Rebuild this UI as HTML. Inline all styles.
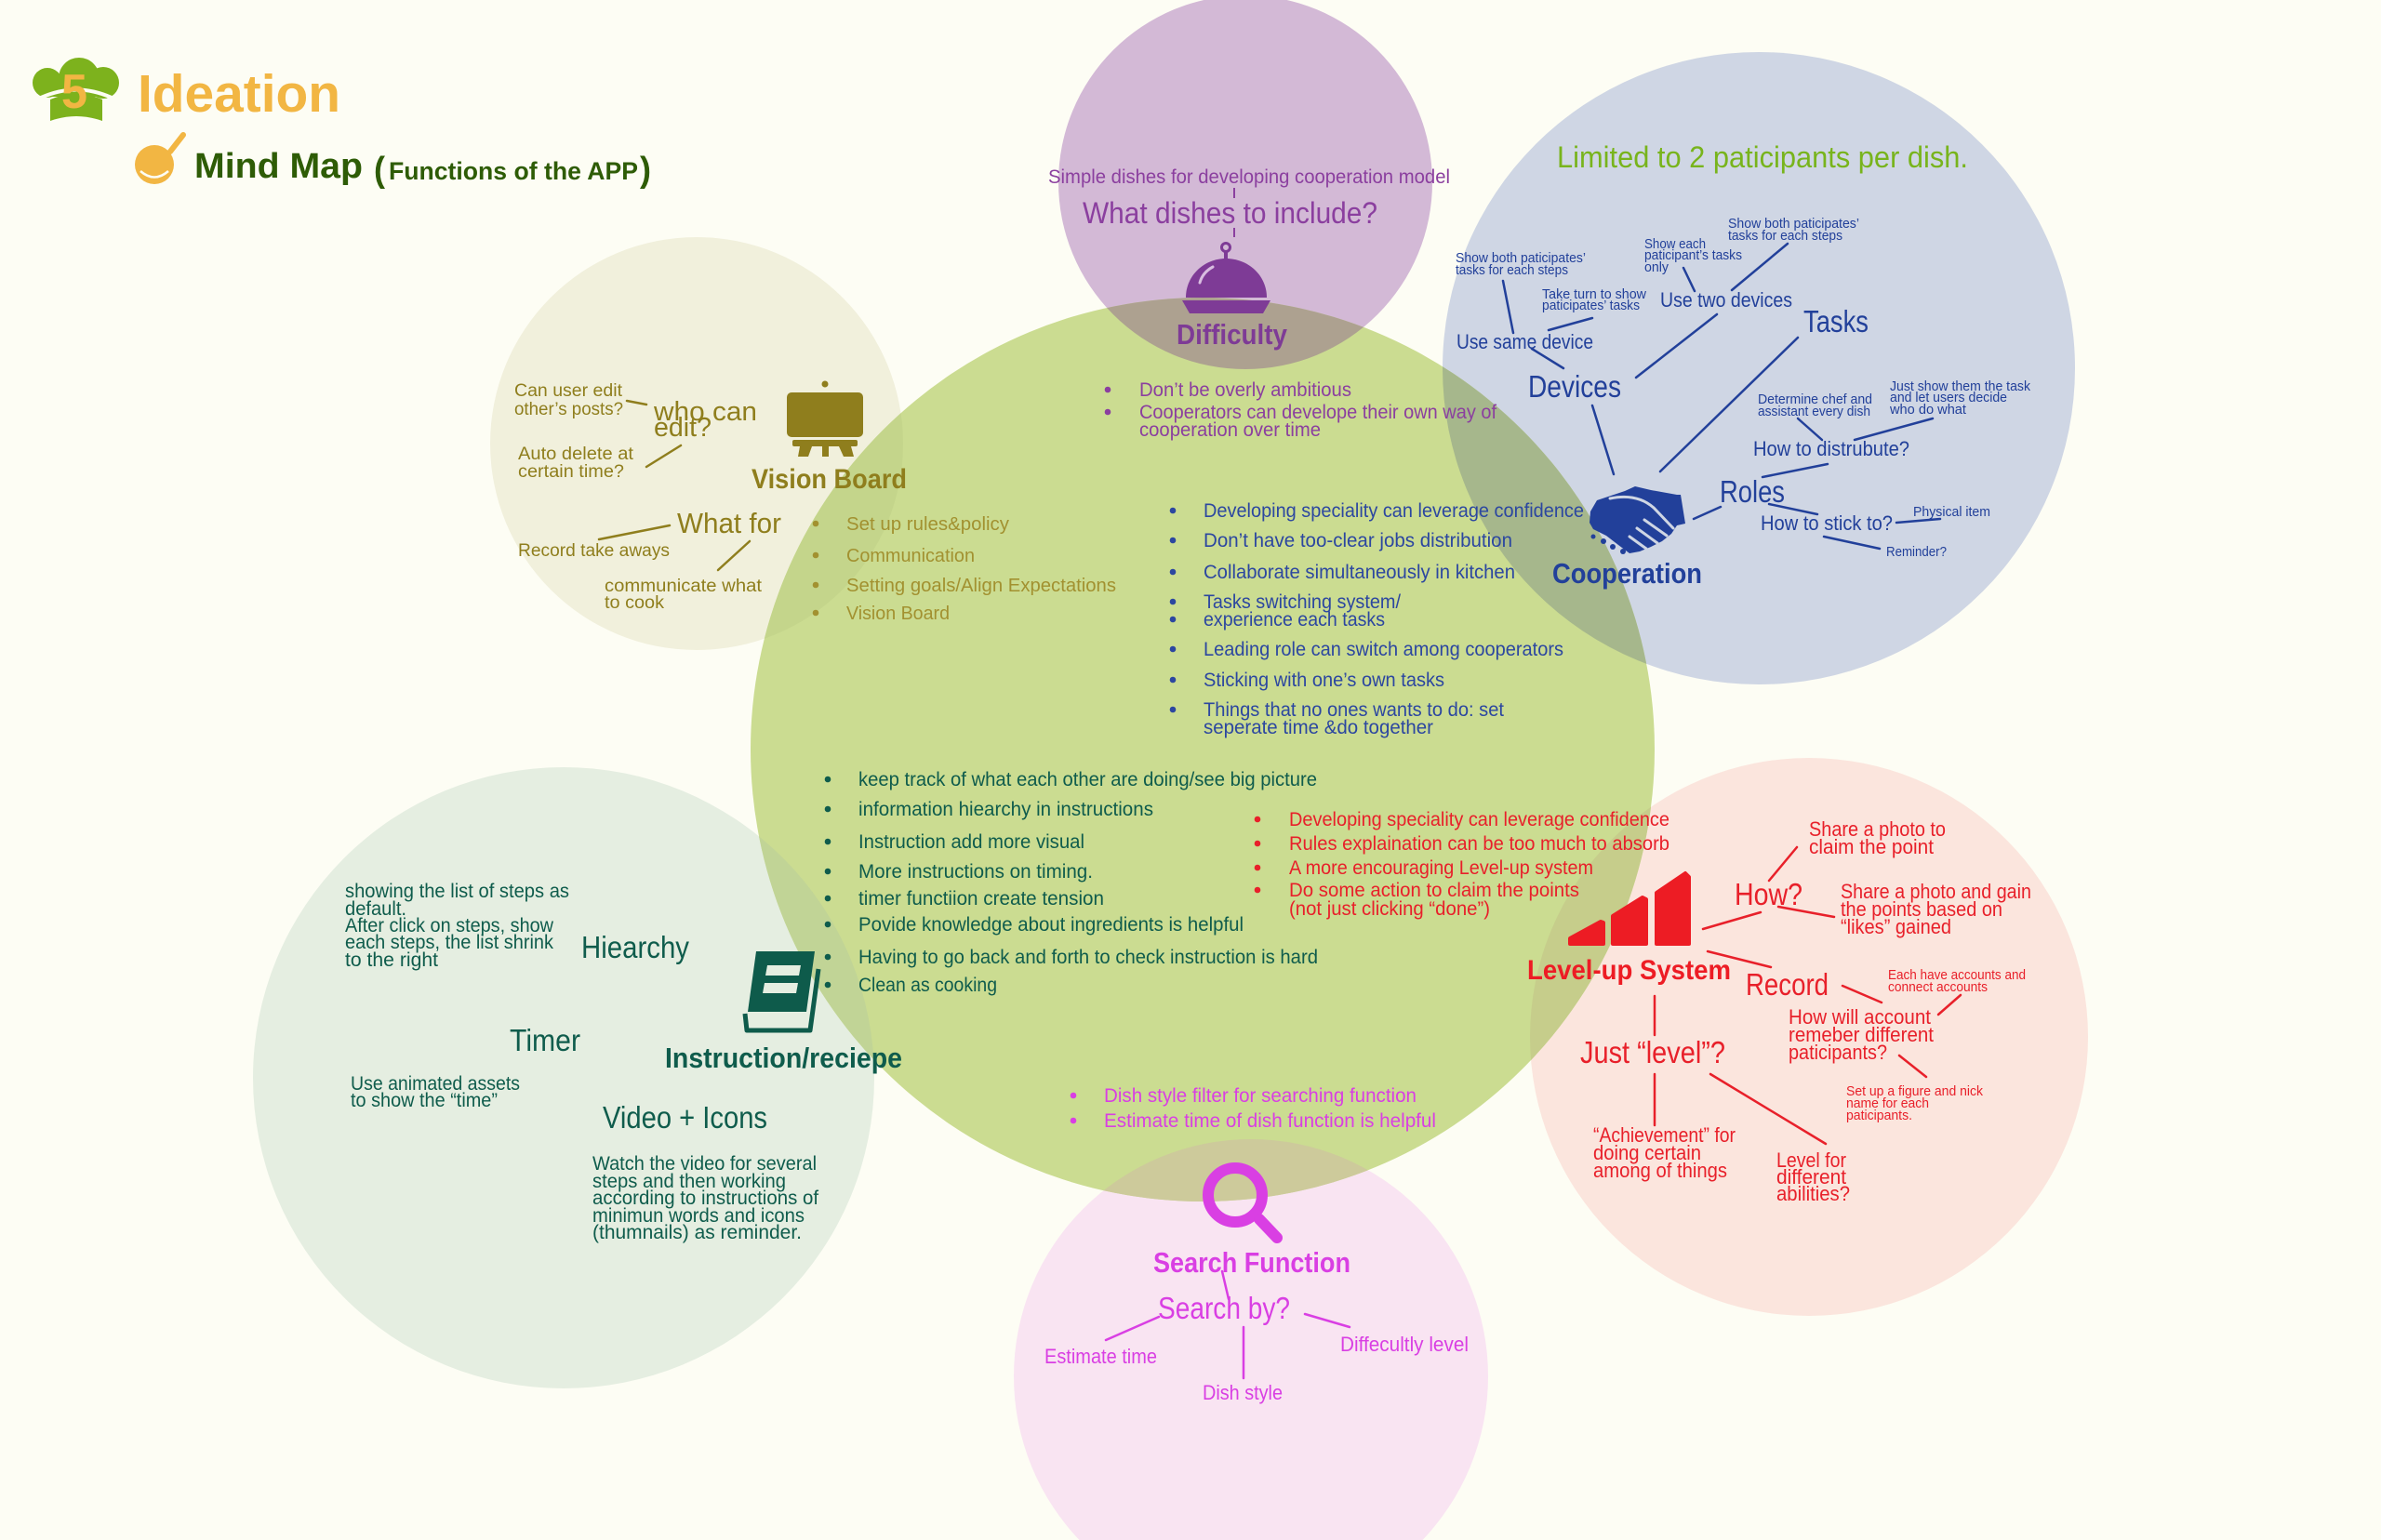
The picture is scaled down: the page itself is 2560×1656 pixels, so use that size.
<!DOCTYPE html>
<html><head><meta charset="utf-8"><style>
html,body{margin:0;padding:0;background:#fdfdf4;width:2560px;height:1656px;overflow:hidden}
svg{display:block}
text{font-family:"Liberation Sans",Arial,sans-serif;}
.b{font-weight:bold}
</style></head><body>
<svg width="2560" height="1656" viewBox="0 0 2560 1656" xmlns="http://www.w3.org/2000/svg">
<rect width="2560" height="1656" fill="#fdfdf4"/>
<defs><clipPath id="cg"><circle cx="1293" cy="806" r="486"/></clipPath></defs>

<!-- circles -->
<circle cx="749" cy="477" r="222" fill="#f1f0dc"/>
<circle cx="1339" cy="196" r="201" fill="#d3b9d6"/>
<circle cx="1891" cy="396" r="340" fill="#cfd6e4"/>
<circle cx="1945" cy="1115" r="300" fill="#fbe5dd"/>
<circle cx="606" cy="1159" r="334" fill="#e5eee1"/>
<circle cx="1345" cy="1480" r="255" fill="#f9e4f2"/>
<circle cx="1293" cy="806" r="486" fill="#cbdc91"/>
<g clip-path="url(#cg)">
<circle cx="749" cy="477" r="222" fill="#c4d58b"/>
<circle cx="1339" cy="196" r="201" fill="#ada190"/>
<circle cx="1891" cy="396" r="340" fill="#a6b78c"/>
<circle cx="1945" cy="1115" r="300" fill="#c6cd8b"/>
<circle cx="606" cy="1159" r="334" fill="#c1d496"/>
<circle cx="1345" cy="1480" r="255" fill="#cdca9b"/>
</g>

<!-- title -->
<g fill="#7db21d">
<circle cx="51" cy="89" r="16"/>
<circle cx="85" cy="84" r="22"/>
<circle cx="111" cy="89" r="17"/>
<rect x="50" y="84" width="62" height="20"/>
<path d="M54,107 Q82,95 110,107 L110,130 Q82,120 54,130 Z"/>
</g>
<path d="M44,105 Q82,88 120,105" stroke="#fdfdf4" stroke-width="4" fill="none"/>
<text x="66" y="116" font-size="52" class="b" fill="#f2b643" textLength="28" lengthAdjust="spacingAndGlyphs">5</text>
<text x="148" y="120" font-size="57" class="b" fill="#f2b643" textLength="218" lengthAdjust="spacingAndGlyphs">Ideation</text>
<circle cx="166" cy="177" r="21" fill="#f2b643"/>
<path d="M151,184 Q166,197 181,184" stroke="#fdfdf4" stroke-width="2.5" fill="none"/>
<line x1="183" y1="163" x2="197" y2="145" stroke="#f2b643" stroke-width="6" stroke-linecap="round"/>
<text x="209" y="191" font-size="38" class="b" fill="#2e5c06" textLength="181" lengthAdjust="spacingAndGlyphs">Mind Map</text>
<text x="402" y="195" font-size="38" class="b" fill="#2e5c06" textLength="12" lengthAdjust="spacingAndGlyphs">(</text>
<text x="418" y="193" font-size="27" class="b" fill="#2e5c06" textLength="268" lengthAdjust="spacingAndGlyphs">Functions of the APP</text>
<text x="688" y="195" font-size="38" class="b" fill="#2e5c06" textLength="12" lengthAdjust="spacingAndGlyphs">)</text>

<!-- VISION BOARD -->
<g fill="#8f7e1d">
<rect x="846" y="422" width="82" height="48" rx="5"/>
<circle cx="887" cy="413" r="3.5"/>
<rect x="852" y="473" width="70" height="7" rx="2"/>
<polygon points="860,480 873,480 869,491 858,491"/>
<rect x="884" y="480" width="7" height="11"/>
<polygon points="902,480 915,480 918,491 907,491"/>
</g>
<g stroke="#8f7e1d" stroke-width="2.5" stroke-linecap="round">
<line x1="674" y1="431" x2="695" y2="435"/>
<line x1="695" y1="502" x2="732" y2="479"/>
<line x1="644" y1="580" x2="720" y2="565"/>
<line x1="806" y1="582" x2="772" y2="613"/>
</g>
<g fill="#8f7e1d">
<text x="553" y="426" font-size="19" textLength="116" lengthAdjust="spacingAndGlyphs">Can user edit</text>
<text x="553" y="446" font-size="19" textLength="117" lengthAdjust="spacingAndGlyphs">other’s posts?</text>
<text x="703" y="452" font-size="29" textLength="111" lengthAdjust="spacingAndGlyphs">who can</text>
<text x="703" y="469" font-size="29" textLength="62" lengthAdjust="spacingAndGlyphs">edit?</text>
<text x="557" y="494" font-size="19" textLength="124" lengthAdjust="spacingAndGlyphs">Auto delete at</text>
<text x="557" y="513" font-size="19" textLength="114" lengthAdjust="spacingAndGlyphs">certain time?</text>
<text x="808" y="525" font-size="30" class="b" textLength="167" lengthAdjust="spacingAndGlyphs">Vision Board</text>
<text x="728" y="573" font-size="31" textLength="112" lengthAdjust="spacingAndGlyphs">What for</text>
<text x="557" y="598" font-size="19" textLength="163" lengthAdjust="spacingAndGlyphs">Record take aways</text>
<text x="650" y="636" font-size="19" textLength="169" lengthAdjust="spacingAndGlyphs">communicate what</text>
<text x="650" y="654" font-size="19" textLength="64" lengthAdjust="spacingAndGlyphs">to cook</text>
</g>
<g fill="#a29130">
<circle cx="877" cy="563" r="3.3"/><circle cx="877" cy="597" r="3.3"/><circle cx="877" cy="629" r="3.3"/><circle cx="877" cy="659" r="3.3"/>
<text x="910" y="570" font-size="20" textLength="175" lengthAdjust="spacingAndGlyphs">Set up rules&amp;policy</text>
<text x="910" y="604" font-size="20" textLength="138" lengthAdjust="spacingAndGlyphs">Communication</text>
<text x="910" y="636" font-size="20" textLength="290" lengthAdjust="spacingAndGlyphs">Setting goals/Align Expectations</text>
<text x="910" y="666" font-size="20" textLength="111" lengthAdjust="spacingAndGlyphs">Vision Board</text>
</g>

<!-- DIFFICULTY -->
<g stroke="#8b3f9f" stroke-width="2">
<line x1="1327" y1="202" x2="1327" y2="213"/>
<line x1="1327" y1="245" x2="1327" y2="255"/>
</g>
<g fill="#7e3b96">
<circle cx="1318" cy="266" r="4.5" fill="none" stroke="#7e3b96" stroke-width="3"/>
<rect x="1316" y="270" width="4" height="9"/>
<path d="M1275,320 C1275,296 1295,278 1318,278 C1342,278 1362,296 1362,320 Z"/>
<path d="M1271,323 L1366,323 L1358,337 L1279,337 Z"/>
</g>
<path d="M1290,304 Q1293,293 1304,287" stroke="#d8bde0" stroke-width="3" fill="none" stroke-linecap="round"/>
<g fill="#8b3f9f">
<text x="1127" y="197" font-size="21" textLength="432" lengthAdjust="spacingAndGlyphs">Simple dishes for developing cooperation model</text>
<text x="1164" y="240" font-size="32" textLength="317" lengthAdjust="spacingAndGlyphs">What dishes to include?</text>
<text x="1265" y="370" font-size="31" class="b" fill="#7e3b96" textLength="119" lengthAdjust="spacingAndGlyphs">Difficulty</text>
<circle cx="1191" cy="419" r="3.3"/><circle cx="1191" cy="443" r="3.3"/>
<text x="1225" y="426" font-size="21" textLength="228" lengthAdjust="spacingAndGlyphs">Don’t be overly ambitious</text>
<text x="1225" y="450" font-size="21" textLength="384" lengthAdjust="spacingAndGlyphs">Cooperators can develope their own way of</text>
<text x="1225" y="469" font-size="21" textLength="195" lengthAdjust="spacingAndGlyphs">cooperation over time</text>
</g>

<!-- COOPERATION -->
<text x="1674" y="180" font-size="32" fill="#78b41c" textLength="442" lengthAdjust="spacingAndGlyphs">Limited to 2 paticipants per dish.</text>
<g stroke="#22409a" stroke-width="2.5" stroke-linecap="round">
<line x1="1616" y1="302" x2="1627" y2="358"/>
<line x1="1665" y1="355" x2="1712" y2="342"/>
<line x1="1647" y1="375" x2="1681" y2="396"/>
<line x1="1712" y1="436" x2="1735" y2="510"/>
<line x1="1759" y1="406" x2="1846" y2="338"/>
<line x1="1810" y1="288" x2="1822" y2="313"/>
<line x1="1922" y1="262" x2="1862" y2="312"/>
<line x1="1933" y1="363" x2="1785" y2="507"/>
<line x1="1933" y1="450" x2="1959" y2="473"/>
<line x1="1994" y1="473" x2="2078" y2="450"/>
<line x1="1895" y1="513" x2="1965" y2="499"/>
<line x1="1850" y1="545" x2="1821" y2="558"/>
<line x1="1902" y1="542" x2="1954" y2="553"/>
<line x1="2039" y1="562" x2="2086" y2="558"/>
<line x1="1961" y1="577" x2="2021" y2="590"/>
</g>
<path fill="#22409a" d="M1710,550 L1717,538 L1732,533 L1747,528 L1758,523 L1775,527 L1803,532 L1807,532 L1812,563 L1803,565 L1797,574 L1787,582 L1775,588 L1763,593 L1752,595 L1740,586 L1727,576 L1713,569 L1709,562 Z"/>
<g stroke="#cfd6e4" stroke-width="3" stroke-linecap="round" fill="none">
<path d="M1731,536 Q1760,530 1778,546 L1799,568"/>
<line x1="1768" y1="559" x2="1792" y2="576"/>
<line x1="1760" y1="568" x2="1782" y2="584"/>
<line x1="1752" y1="577" x2="1770" y2="590"/>
</g>
<g fill="#22409a">
<circle cx="1713" cy="577" r="2.5"/><circle cx="1724" cy="582" r="3"/><circle cx="1734" cy="588" r="3"/><circle cx="1745" cy="593" r="3"/>
<text x="1565" y="282" font-size="15" textLength="140" lengthAdjust="spacingAndGlyphs">Show both paticipates’</text>
<text x="1565" y="295" font-size="15" textLength="121" lengthAdjust="spacingAndGlyphs">tasks for each steps</text>
<text x="1658" y="321" font-size="15" textLength="112" lengthAdjust="spacingAndGlyphs">Take turn to show</text>
<text x="1658" y="333" font-size="15" textLength="105" lengthAdjust="spacingAndGlyphs">paticipates’ tasks</text>
<text x="1566" y="375" font-size="22" textLength="147" lengthAdjust="spacingAndGlyphs">Use same device</text>
<text x="1643" y="427" font-size="33" textLength="100" lengthAdjust="spacingAndGlyphs">Devices</text>
<text x="1785" y="330" font-size="22" textLength="142" lengthAdjust="spacingAndGlyphs">Use two devices</text>
<text x="1768" y="267" font-size="15" textLength="66" lengthAdjust="spacingAndGlyphs">Show each</text>
<text x="1768" y="279" font-size="15" textLength="105" lengthAdjust="spacingAndGlyphs">paticipant’s tasks</text>
<text x="1768" y="292" font-size="15" textLength="26" lengthAdjust="spacingAndGlyphs">only</text>
<text x="1858" y="245" font-size="15" textLength="141" lengthAdjust="spacingAndGlyphs">Show both paticipates’</text>
<text x="1858" y="258" font-size="15" textLength="123" lengthAdjust="spacingAndGlyphs">tasks for each steps</text>
<text x="1939" y="357" font-size="33" textLength="70" lengthAdjust="spacingAndGlyphs">Tasks</text>
<text x="1890" y="434" font-size="15" textLength="123" lengthAdjust="spacingAndGlyphs">Determine chef and</text>
<text x="1890" y="447" font-size="15" textLength="121" lengthAdjust="spacingAndGlyphs">assistant every dish</text>
<text x="2032" y="420" font-size="15" textLength="151" lengthAdjust="spacingAndGlyphs">Just show them the task</text>
<text x="2032" y="432" font-size="15" textLength="126" lengthAdjust="spacingAndGlyphs">and let users decide</text>
<text x="2032" y="445" font-size="15" textLength="82" lengthAdjust="spacingAndGlyphs">who do what</text>
<text x="1885" y="490" font-size="22" textLength="168" lengthAdjust="spacingAndGlyphs">How to distrubute?</text>
<text x="1849" y="540" font-size="33" textLength="70" lengthAdjust="spacingAndGlyphs">Roles</text>
<text x="1893" y="570" font-size="22" textLength="142" lengthAdjust="spacingAndGlyphs">How to stick to?</text>
<text x="2057" y="555" font-size="15" textLength="83" lengthAdjust="spacingAndGlyphs">Physical item</text>
<text x="2028" y="598" font-size="15" textLength="65" lengthAdjust="spacingAndGlyphs">Reminder?</text>
<text x="1669" y="627" font-size="31" class="b" textLength="161" lengthAdjust="spacingAndGlyphs">Cooperation</text>
</g>

<!-- blue bullets in center -->
<g fill="#2c47a0">
<circle cx="1261" cy="549" r="3.3"/><circle cx="1261" cy="581" r="3.3"/><circle cx="1261" cy="615" r="3.3"/><circle cx="1261" cy="647" r="3.3"/><circle cx="1261" cy="666" r="3.3"/><circle cx="1261" cy="698" r="3.3"/><circle cx="1261" cy="731" r="3.3"/><circle cx="1261" cy="763" r="3.3"/>
<text x="1294" y="556" font-size="21" textLength="409" lengthAdjust="spacingAndGlyphs">Developing speciality can leverage confidence</text>
<text x="1294" y="588" font-size="21" textLength="332" lengthAdjust="spacingAndGlyphs">Don’t have too-clear jobs distribution</text>
<text x="1294" y="622" font-size="21" textLength="335" lengthAdjust="spacingAndGlyphs">Collaborate simultaneously in kitchen</text>
<text x="1294" y="654" font-size="21" textLength="212" lengthAdjust="spacingAndGlyphs">Tasks switching system/</text>
<text x="1294" y="673" font-size="21" textLength="195" lengthAdjust="spacingAndGlyphs">experience each tasks</text>
<text x="1294" y="705" font-size="21" textLength="387" lengthAdjust="spacingAndGlyphs">Leading role can switch among cooperators</text>
<text x="1294" y="738" font-size="21" textLength="259" lengthAdjust="spacingAndGlyphs">Sticking with one’s own tasks</text>
<text x="1294" y="770" font-size="21" textLength="323" lengthAdjust="spacingAndGlyphs">Things that no ones wants to do: set</text>
<text x="1294" y="789" font-size="21" textLength="247" lengthAdjust="spacingAndGlyphs">seperate time &amp;do together</text>
</g>

<!-- teal bullets -->
<g fill="#0f5c4c">
<circle cx="890" cy="838" r="3.3"/><circle cx="890" cy="870" r="3.3"/><circle cx="890" cy="905" r="3.3"/><circle cx="890" cy="937" r="3.3"/><circle cx="890" cy="966" r="3.3"/><circle cx="890" cy="994" r="3.3"/><circle cx="890" cy="1029" r="3.3"/><circle cx="890" cy="1059" r="3.3"/>
<text x="923" y="845" font-size="21" textLength="493" lengthAdjust="spacingAndGlyphs">keep track of what each other are doing/see big picture</text>
<text x="923" y="877" font-size="21" textLength="317" lengthAdjust="spacingAndGlyphs">information hiearchy in instructions</text>
<text x="923" y="912" font-size="21" textLength="243" lengthAdjust="spacingAndGlyphs">Instruction add more visual</text>
<text x="923" y="944" font-size="21" textLength="252" lengthAdjust="spacingAndGlyphs">More instructions on timing.</text>
<text x="923" y="973" font-size="21" textLength="264" lengthAdjust="spacingAndGlyphs">timer functiion create tension</text>
<text x="923" y="1001" font-size="21" textLength="414" lengthAdjust="spacingAndGlyphs">Povide knowledge about ingredients is helpful</text>
<text x="923" y="1036" font-size="21" textLength="494" lengthAdjust="spacingAndGlyphs">Having to go back and forth to check instruction is hard</text>
<text x="923" y="1066" font-size="21" textLength="149" lengthAdjust="spacingAndGlyphs">Clean as cooking</text>
</g>

<!-- red bullets -->
<g fill="#e8202a">
<circle cx="1352" cy="881" r="3.3"/><circle cx="1352" cy="907" r="3.3"/><circle cx="1352" cy="933" r="3.3"/><circle cx="1352" cy="957" r="3.3"/>
<text x="1386" y="888" font-size="21" textLength="409" lengthAdjust="spacingAndGlyphs">Developing speciality can leverage confidence</text>
<text x="1386" y="914" font-size="21" textLength="409" lengthAdjust="spacingAndGlyphs">Rules explaination can be too much to absorb</text>
<text x="1386" y="940" font-size="21" textLength="327" lengthAdjust="spacingAndGlyphs">A more encouraging Level-up system</text>
<text x="1386" y="964" font-size="21" textLength="312" lengthAdjust="spacingAndGlyphs">Do some action to claim the points</text>
<text x="1386" y="984" font-size="21" textLength="216" lengthAdjust="spacingAndGlyphs">(not just clicking “done”)</text>
</g>

<!-- LEVEL-UP -->
<g fill="#ed1c24" stroke="#ed1c24" stroke-width="4" stroke-linejoin="round">
<polygon points="1688,1015 1688,1009 1721,991 1724,992 1724,1015"/>
<polygon points="1734,1015 1734,985 1766,965 1770,967 1770,1015"/>
<polygon points="1781,1015 1781,960 1812,939 1816,943 1816,1015"/>
</g>
<g stroke="#e8202a" stroke-width="2.5" stroke-linecap="round">
<line x1="1831" y1="999" x2="1893" y2="981"/>
<line x1="1902" y1="947" x2="1932" y2="911"/>
<line x1="1912" y1="975" x2="1972" y2="986"/>
<line x1="1836" y1="1023" x2="1904" y2="1040"/>
<line x1="1981" y1="1060" x2="2023" y2="1078"/>
<line x1="2108" y1="1070" x2="2084" y2="1091"/>
<line x1="2042" y1="1135" x2="2071" y2="1158"/>
<line x1="1779" y1="1071" x2="1779" y2="1113"/>
<line x1="1779" y1="1155" x2="1779" y2="1210"/>
<line x1="1839" y1="1155" x2="1963" y2="1230"/>
</g>
<g fill="#e8202a">
<text x="1642" y="1053" font-size="30" class="b" fill="#ed1c24" textLength="219" lengthAdjust="spacingAndGlyphs">Level-up System</text>
<text x="1865" y="973" font-size="33" textLength="73" lengthAdjust="spacingAndGlyphs">How?</text>
<text x="1945" y="899" font-size="22" textLength="147" lengthAdjust="spacingAndGlyphs">Share a photo to</text>
<text x="1945" y="918" font-size="22" textLength="134" lengthAdjust="spacingAndGlyphs">claim the point</text>
<text x="1979" y="966" font-size="22" textLength="205" lengthAdjust="spacingAndGlyphs">Share a photo and gain</text>
<text x="1979" y="985" font-size="22" textLength="174" lengthAdjust="spacingAndGlyphs">the points based on</text>
<text x="1979" y="1004" font-size="22" textLength="119" lengthAdjust="spacingAndGlyphs">“likes” gained</text>
<text x="1877" y="1070" font-size="33" textLength="89" lengthAdjust="spacingAndGlyphs">Record</text>
<text x="2030" y="1053" font-size="15" textLength="148" lengthAdjust="spacingAndGlyphs">Each have accounts and</text>
<text x="2030" y="1066" font-size="15" textLength="107" lengthAdjust="spacingAndGlyphs">connect accounts</text>
<text x="1923" y="1101" font-size="22" textLength="153" lengthAdjust="spacingAndGlyphs">How will account</text>
<text x="1923" y="1120" font-size="22" textLength="156" lengthAdjust="spacingAndGlyphs">remeber different</text>
<text x="1923" y="1139" font-size="22" textLength="106" lengthAdjust="spacingAndGlyphs">paticipants?</text>
<text x="1985" y="1178" font-size="15" textLength="147" lengthAdjust="spacingAndGlyphs">Set up a figure and nick</text>
<text x="1985" y="1191" font-size="15" textLength="89" lengthAdjust="spacingAndGlyphs">name for each</text>
<text x="1985" y="1204" font-size="15" textLength="71" lengthAdjust="spacingAndGlyphs">paticipants.</text>
<text x="1699" y="1143" font-size="33" textLength="156" lengthAdjust="spacingAndGlyphs">Just “level”?</text>
<text x="1713" y="1228" font-size="22" textLength="153" lengthAdjust="spacingAndGlyphs">“Achievement” for</text>
<text x="1713" y="1247" font-size="22" textLength="116" lengthAdjust="spacingAndGlyphs">doing certain</text>
<text x="1713" y="1266" font-size="22" textLength="144" lengthAdjust="spacingAndGlyphs">among of things</text>
<text x="1910" y="1255" font-size="22" textLength="75" lengthAdjust="spacingAndGlyphs">Level for</text>
<text x="1910" y="1273" font-size="22" textLength="75" lengthAdjust="spacingAndGlyphs">different</text>
<text x="1910" y="1291" font-size="22" textLength="79" lengthAdjust="spacingAndGlyphs">abilities?</text>
</g>

<!-- INSTRUCTION -->
<g fill="#0e5b4b">
<path d="M813,1023 L876,1023 L867,1088 L804,1088 Z"/>
</g>
<path d="M801,1090 L803,1108 L871,1108 L880,1042" stroke="#0e5b4b" stroke-width="5" fill="none" stroke-linejoin="round"/>
<g fill="#e5eee1">
<polygon points="825,1038 861,1038 859,1049 823,1049"/>
<polygon points="822,1057 858,1057 856,1068 820,1068"/>
</g>
<g fill="#0f5c4c">
<text x="371" y="965" font-size="21" textLength="241" lengthAdjust="spacingAndGlyphs">showing the list of steps as</text>
<text x="371" y="984" font-size="21" textLength="66" lengthAdjust="spacingAndGlyphs">default.</text>
<text x="371" y="1002" font-size="21" textLength="224" lengthAdjust="spacingAndGlyphs">After click on steps, show</text>
<text x="371" y="1020" font-size="21" textLength="224" lengthAdjust="spacingAndGlyphs">each steps, the list shrink</text>
<text x="371" y="1039" font-size="21" textLength="100" lengthAdjust="spacingAndGlyphs">to the right</text>
<text x="625" y="1030" font-size="33" textLength="116" lengthAdjust="spacingAndGlyphs">Hiearchy</text>
<text x="548" y="1130" font-size="33" textLength="76" lengthAdjust="spacingAndGlyphs">Timer</text>
<text x="715" y="1148" font-size="31" class="b" textLength="255" lengthAdjust="spacingAndGlyphs">Instruction/reciepe</text>
<text x="377" y="1172" font-size="21" textLength="182" lengthAdjust="spacingAndGlyphs">Use animated assets</text>
<text x="377" y="1190" font-size="21" textLength="158" lengthAdjust="spacingAndGlyphs">to show the “time”</text>
<text x="648" y="1213" font-size="33" textLength="177" lengthAdjust="spacingAndGlyphs">Video + Icons</text>
<text x="637" y="1258" font-size="21" textLength="241" lengthAdjust="spacingAndGlyphs">Watch the video for several</text>
<text x="637" y="1277" font-size="21" textLength="208" lengthAdjust="spacingAndGlyphs">steps and then working</text>
<text x="637" y="1295" font-size="21" textLength="243" lengthAdjust="spacingAndGlyphs">according to instructions of</text>
<text x="637" y="1314" font-size="21" textLength="228" lengthAdjust="spacingAndGlyphs">minimun words and icons</text>
<text x="637" y="1332" font-size="21" textLength="225" lengthAdjust="spacingAndGlyphs">(thumnails) as reminder.</text>
</g>

<!-- SEARCH -->
<circle cx="1328" cy="1285" r="29" fill="none" stroke="#d93fe3" stroke-width="12"/>
<line x1="1354" y1="1311" x2="1373" y2="1331" stroke="#d93fe3" stroke-width="12" stroke-linecap="round"/>
<g stroke="#d93fe3" stroke-width="2.5" stroke-linecap="round">
<line x1="1314" y1="1367" x2="1321" y2="1397"/>
<line x1="1246" y1="1416" x2="1189" y2="1441"/>
<line x1="1337" y1="1427" x2="1337" y2="1482"/>
<line x1="1403" y1="1413" x2="1451" y2="1427"/>
</g>
<g fill="#d93fe3">
<circle cx="1154" cy="1178" r="3.3"/><circle cx="1154" cy="1205" r="3.3"/>
<text x="1187" y="1185" font-size="21" textLength="336" lengthAdjust="spacingAndGlyphs">Dish style filter for searching function</text>
<text x="1187" y="1212" font-size="21" textLength="357" lengthAdjust="spacingAndGlyphs">Estimate time of dish function is helpful</text>
<text x="1240" y="1368" font-size="31" class="b" textLength="212" lengthAdjust="spacingAndGlyphs">Search Function</text>
<text x="1245" y="1418" font-size="33" textLength="142" lengthAdjust="spacingAndGlyphs">Search by?</text>
<text x="1123" y="1466" font-size="22" textLength="121" lengthAdjust="spacingAndGlyphs">Estimate time</text>
<text x="1293" y="1505" font-size="22" textLength="86" lengthAdjust="spacingAndGlyphs">Dish style</text>
<text x="1441" y="1453" font-size="22" textLength="138" lengthAdjust="spacingAndGlyphs">Diffecultly level</text>
</g>
</svg>
</body></html>
